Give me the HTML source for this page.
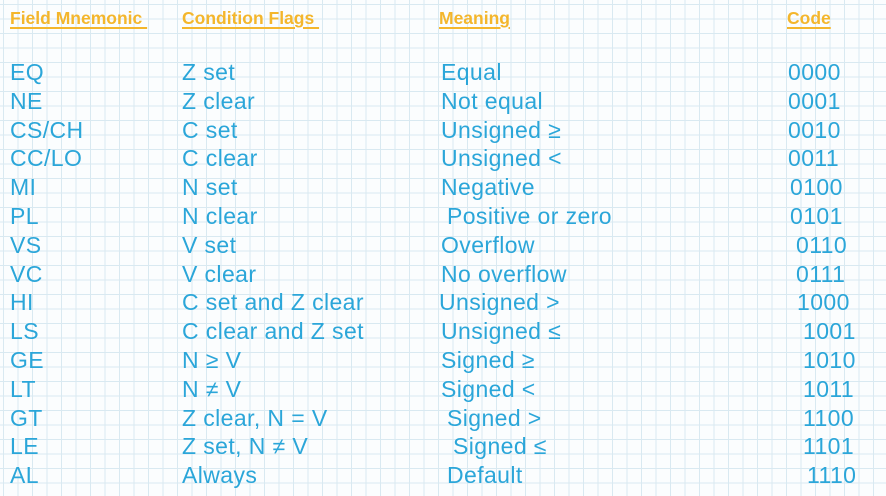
<!DOCTYPE html>
<html><head><style>
body{margin:0;width:886px;height:496px;overflow:hidden;background-color:#fbfdfe;
background-image:linear-gradient(#d9e9f1 1px,transparent 1px),linear-gradient(90deg,#d9e9f1 1px,transparent 1px);
background-size:14.5px 14.5px;background-position:3px 4px;font-family:"Liberation Sans",sans-serif;position:relative}
.h{position:absolute;top:8px;color:#f4b62c;font-weight:bold;font-size:17.5px;text-decoration:underline;text-decoration-thickness:2px;text-underline-offset:3px;white-space:pre}
.t{position:absolute;color:#2ba6d9;font-size:23px;letter-spacing:0.4px;white-space:pre;line-height:26px}
</style></head><body>
<div class="h" style="left:10px">Field Mnemonic </div>
<div class="h" style="left:182px">Condition Flags </div>
<div class="h" style="left:439px">Meaning</div>
<div class="h" style="left:787px">Code</div>
<div id="rows"></div>
<script>
var d=[["EQ","Z set","Equal","0000",441,788],["NE","Z clear","Not equal","0001",441,788],["CS/CH","C set","Unsigned ≥","0010",441,788],["CC/LO","C clear","Unsigned <","0011",441,788],["MI","N set","Negative","0100",441,790],["PL","N clear","Positive or zero","0101",447,790],["VS","V set","Overflow","0110",441,796],["VC","V clear","No overflow","0111",441,796],["HI","C set and Z clear","Unsigned >","1000",439,797],["LS","C clear and Z set","Unsigned ≤","1001",441,803],["GE","N ≥ V","Signed ≥","1010",441,803],["LT","N ≠ V","Signed <","1011",441,803],["GT","Z clear, N = V","Signed >","1100",447,803],["LE","Z set, N ≠ V","Signed ≤","1101",453,803],["AL","Always","Default","1110",447,807]];
var h="";d.forEach(function(r,i){var y=59+28.8*i;
h+='<div class="t" style="left:10px;top:'+y+'px">'+r[0]+'</div><div class="t" style="left:182px;top:'+y+'px">'+r[1]+'</div><div class="t" style="left:'+r[4]+'px;top:'+y+'px">'+r[2].replace("<","&lt;").replace(">","&gt;")+'</div><div class="t" style="left:'+r[5]+'px;top:'+y+'px">'+r[3]+'</div>';});
document.getElementById("rows").innerHTML=h;
</script>
</body></html>
